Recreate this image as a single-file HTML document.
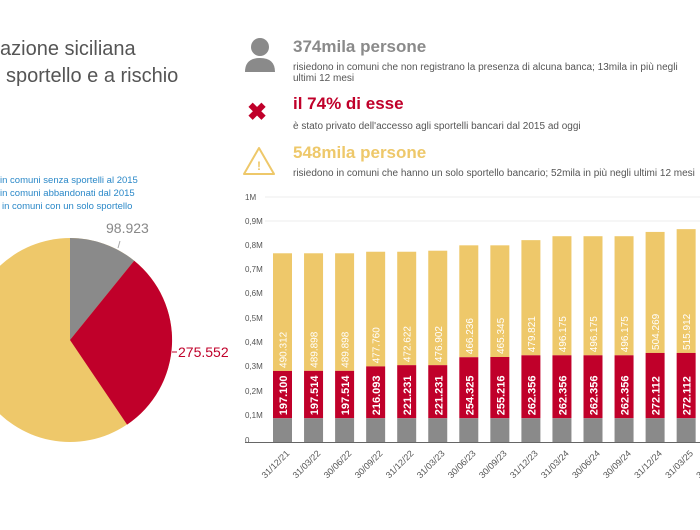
<!DOCTYPE html>
<html><head><meta charset="utf-8"><style>
body{margin:0;width:700px;height:525px;background:#fff;overflow:hidden;font-family:"Liberation Sans",sans-serif}
</style></head><body>
<svg width="700" height="525" xmlns="http://www.w3.org/2000/svg" font-family="Liberation Sans, sans-serif">
<rect width="700" height="525" fill="#fff"/>
<text x="0" y="55" font-size="20" fill="#555">azione siciliana</text>
<text x="6" y="82" font-size="20" fill="#555">sportello e a rischio</text>
<g font-size="9.5" fill="#2a88c8">
<text x="0" y="183">in comuni senza sportelli al 2015</text>
<text x="0" y="196">in comuni abbandonati dal 2015</text>
<text x="2" y="209">in comuni con un solo sportello</text>
</g>
<circle cx="70" cy="340" r="102" fill="#eec86a"/>
<path d="M70,340 L70,238 A102,102 0 0 1 134.2,260.7 Z" fill="#8a8a8a"/>
<path d="M70,340 L134.2,260.7 A102,102 0 0 1 127.1,424.6 Z" fill="#c0002a"/>
<text x="106" y="233" font-size="14" fill="#888">98.923</text>
<line x1="120" y1="241" x2="118" y2="248" stroke="#aaa"/>
<line x1="172" y1="352" x2="177" y2="352" stroke="#c0002a"/>
<text x="178" y="357" font-size="14" fill="#c0002a">275.552</text>
<circle cx="260" cy="47" r="9" fill="#8a8a8a"/>
<path d="M245,72 Q245,58 260,58 Q275,58 275,72 Z" fill="#8a8a8a"/>
<text x="247" y="120" font-size="24" font-weight="bold" fill="#c0002a">✖</text>
<path d="M259,148 L274,174 L244,174 Z" fill="none" stroke="#eec86a" stroke-width="2" stroke-linejoin="round"/>
<text x="257" y="170" font-size="12" fill="#eec86a" font-weight="bold">!</text>
<text x="293" y="52" font-size="17" font-weight="bold" fill="#8a8a8a">374mila persone</text>
<text x="293" y="70" font-size="10" fill="#555">risiedono in comuni che non registrano la presenza di alcuna banca; 13mila in più negli</text>
<text x="293" y="81" font-size="10" fill="#555">ultimi 12 mesi</text>
<text x="293" y="109" font-size="17" font-weight="bold" fill="#c0002a">il 74% di esse</text>
<text x="293" y="129" font-size="10" fill="#555">è stato privato dell'accesso agli sportelli bancari dal 2015 ad oggi</text>
<text x="293" y="158" font-size="17" font-weight="bold" fill="#eec86a">548mila persone</text>
<text x="293" y="176" font-size="10" fill="#555">risiedono in comuni che hanno un solo sportello bancario; 52mila in più negli ultimi 12 mesi</text>
<g font-size="8" fill="#555">
<text x="245" y="200">1M</text><text x="245" y="224">0,9M</text><text x="245" y="248">0,8M</text>
<text x="245" y="272">0,7M</text><text x="245" y="296">0,6M</text><text x="245" y="321">0,5M</text>
<text x="245" y="345">0,4M</text><text x="245" y="369">0,3M</text><text x="245" y="394">0,2M</text>
<text x="245" y="418">0,1M</text><text x="245" y="443">0</text>
</g>
<g stroke="#eee"><line x1="265" y1="197" x2="700" y2="197"/><line x1="265" y1="221" x2="700" y2="221"/></g>
<line x1="245" y1="442.5" x2="700" y2="442.5" stroke="#666"/>
<g id="bars"></g>
</svg>
<script>
const r=[197100,197514,197514,216093,221231,221231,254325,255216,262356,262356,262356,262356,272112,272112,272112];
const y=[490312,489898,489898,477760,472622,476902,466236,465345,479821,496175,496175,496175,504269,515912,515912];
const d=["31/12/21","31/03/22","30/06/22","30/09/22","31/12/22","31/03/23","30/06/23","30/09/23","31/12/23","31/03/24","30/06/24","30/09/24","31/12/24","31/03/25","30/06/25"];
const g=98923,s=24/100000,b=442;let h="";
for(let i=0;i<15;i++){const x=273+i*31.05,w=19;
const gt=b-g*s,rt=gt-r[i]*s,yt=rt-y[i]*s;
h+=`<rect x="${x}" y="${yt}" width="${w}" height="${rt-yt}" fill="#eec86a"/>`;
h+=`<rect x="${x}" y="${rt}" width="${w}" height="${gt-rt}" fill="#c0002a"/>`;
h+=`<rect x="${x}" y="${gt}" width="${w}" height="${b-gt}" fill="#8a8a8a"/>`;
const f=n=>String(n).replace(/(\d{3})$/,".$1");
h+=`<text transform="translate(${x+14},${gt-3}) rotate(-90)" font-size="11" font-weight="bold" fill="#fff">${f(r[i])}</text>`;
h+=`<text transform="translate(${x+13.5},${rt-3}) rotate(-90)" font-size="10" fill="#fff">${f(y[i])}</text>`;
h+=`<text transform="translate(${x+17},${454}) rotate(-45)" text-anchor="end" font-size="9" fill="#555">${d[i]}</text>`;}
document.getElementById("bars").innerHTML=h;
</script>
</body></html>
